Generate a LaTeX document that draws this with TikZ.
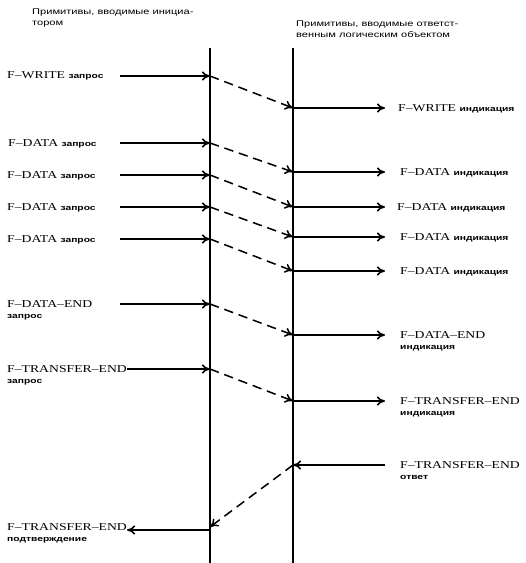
\documentclass[tikz,border=0pt]{standalone}
\usepackage{fontspec}
\setmainfont{Liberation Serif}[FakeStretch=1.3]
\newfontfamily\rusfont{Liberation Sans}[FakeStretch=1.35]
\usetikzlibrary{positioning,arrows.meta}
\newcommand{\rus}[1]{{\rusfont\bfseries\fontsize{6.5}{8}\selectfont #1}}
\tikzset{
        % lifelines of the two entities
        lifeline/.style={line width=1.5pt},
        % solid primitive arrows
        msg/.style={-{To[length=7pt,width=8pt]}, line width=1.3pt},
        % dashed transfer between the entities
        relay/.style={msg, dash pattern=on 8pt off 5pt},
        % primitive labels
        prim/.style={inner sep=0pt, align=left, font=\fontsize{9}{9.5}\selectfont},
        % column headers
        head/.style={anchor=north west, inner sep=0pt, align=left, font=\rusfont\fontsize{7}{9}\selectfont}
}
\begin{document}
\begin{tikzpicture}[x=0.03cm, y=-0.03cm]
    \useasboundingbox (0,0) rectangle (525,563);
    % lifelines
    \coordinate (initTop) at (210,48);
    \coordinate (initBot) at (210,563);
    \coordinate (respTop) at (293,48);
    \coordinate (respBot) at (293,563);
    \draw[lifeline] (initTop) -- (initBot);
    \draw[lifeline] (respTop) -- (respBot);
    % headers
    \node[head] (hInit) at (32,9) {Примитивы, вводимые инициа-\\тором};
    \node[head] (hResp) at (296,21) {Примитивы, вводимые ответст-\\венным логическим объектом};

    % F-WRITE
    \node[prim, anchor=base west] (qWrite) at (7,79) {F–WRITE \rus{запрос}};
    \coordinate (sWrite) at (120,76);
    \coordinate (aWrite) at (210,76);
    \coordinate (bWrite) at (293,108);
    \coordinate (eWrite) at (385,108);
    \node[prim, anchor=base west] (iWrite) at (398,111) {F–WRITE \rus{индикация}};
    \draw[msg] (sWrite) -- (aWrite);
    \draw[relay] (aWrite) -- (bWrite);
    \draw[msg] (bWrite) -- (eWrite);

    % F-DATA 1
    \node[prim, anchor=base west] (qData1) at (8,146) {F–DATA \rus{запрос}};
    \coordinate (sData1) at (120,143);
    \coordinate (aData1) at (210,143);
    \coordinate (bData1) at (293,172);
    \coordinate (eData1) at (385,172);
    \node[prim, anchor=base west] (iData1) at (400,175) {F–DATA \rus{индикация}};
    \draw[msg] (sData1) -- (aData1);
    \draw[relay] (aData1) -- (bData1);
    \draw[msg] (bData1) -- (eData1);

    % F-DATA 2
    \node[prim, anchor=base west] (qData2) at (7,178) {F–DATA \rus{запрос}};
    \coordinate (sData2) at (120,175);
    \coordinate (aData2) at (210,175);
    \coordinate (bData2) at (293,207);
    \coordinate (eData2) at (385,207);
    \node[prim, anchor=base west] (iData2) at (397,210) {F–DATA \rus{индикация}};
    \draw[msg] (sData2) -- (aData2);
    \draw[relay] (aData2) -- (bData2);
    \draw[msg] (bData2) -- (eData2);

    % F-DATA 3
    \node[prim, anchor=base west] (qData3) at (7,210) {F–DATA \rus{запрос}};
    \coordinate (sData3) at (120,207);
    \coordinate (aData3) at (210,207);
    \coordinate (bData3) at (293,237);
    \coordinate (eData3) at (385,237);
    \node[prim, anchor=base west] (iData3) at (400,240) {F–DATA \rus{индикация}};
    \draw[msg] (sData3) -- (aData3);
    \draw[relay] (aData3) -- (bData3);
    \draw[msg] (bData3) -- (eData3);

    % F-DATA 4
    \node[prim, anchor=base west] (qData4) at (7,242) {F–DATA \rus{запрос}};
    \coordinate (sData4) at (120,239);
    \coordinate (aData4) at (210,239);
    \coordinate (bData4) at (293,271);
    \coordinate (eData4) at (385,271);
    \node[prim, anchor=base west] (iData4) at (400,274) {F–DATA \rus{индикация}};
    \draw[msg] (sData4) -- (aData4);
    \draw[relay] (aData4) -- (bData4);
    \draw[msg] (bData4) -- (eData4);

    % F-DATA-END
    \node[prim, anchor=north west] (qDataEnd) at (7,300) {F–DATA–END\\\rus{запрос}};
    \coordinate (sDataEnd) at (120,304);
    \coordinate (aDataEnd) at (210,304);
    \coordinate (bDataEnd) at (293,335);
    \coordinate (eDataEnd) at (385,335);
    \node[prim, anchor=north west] (iDataEnd) at (400,331) {F–DATA–END\\\rus{индикация}};
    \draw[msg] (sDataEnd) -- (aDataEnd);
    \draw[relay] (aDataEnd) -- (bDataEnd);
    \draw[msg] (bDataEnd) -- (eDataEnd);

    % F-TRANSFER-END request / indication
    \node[prim, anchor=north west] (qTrEnd) at (7,365) {F–TRANSFER–END\\\rus{запрос}};
    \coordinate (aTrEnd) at (210,369);
    \coordinate (bTrEnd) at (293,401);
    \coordinate (eTrEnd) at (385,401);
    \node[prim, anchor=north west] (iTrEnd) at (400,397) {F–TRANSFER–END\\\rus{индикация}};
    \draw[msg] (qTrEnd.east |- aTrEnd) -- (aTrEnd);
    \draw[relay] (aTrEnd) -- (bTrEnd);
    \draw[msg] (bTrEnd) -- (eTrEnd);

    % F-TRANSFER-END response / confirmation
    \node[prim, anchor=north west] (rTrEnd) at (400,461) {F–TRANSFER–END\\\rus{ответ}};
    \coordinate (sResp) at (385,465);
    \coordinate (bResp) at (293,465);
    \coordinate (aConf) at (210,527);
    \coordinate (sConf) at (210,530);
    \node[prim, anchor=north west] (cTrEnd) at (7,523) {F–TRANSFER–END\\\rus{подтверждение}};
    \draw[msg] (sResp) -- (bResp);
    \draw[relay] (bResp) -- (aConf);
    \draw[msg] (sConf) -- (cTrEnd.east |- sConf);
\end{tikzpicture}
\end{document}
